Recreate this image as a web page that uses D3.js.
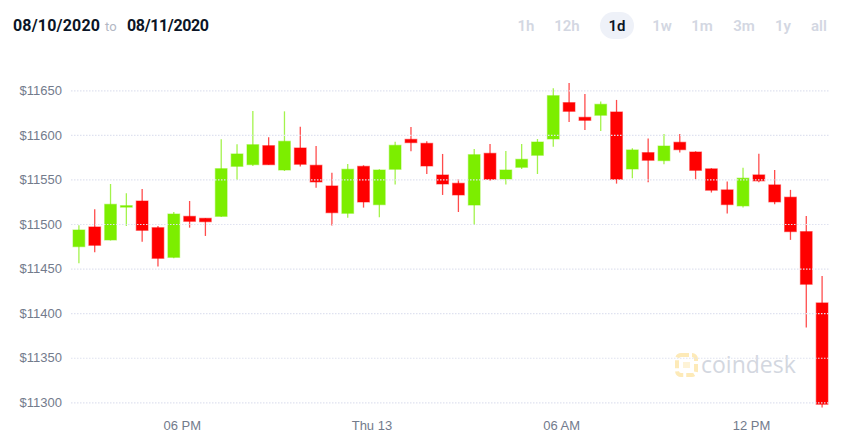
<!DOCTYPE html>
<html>
<head>
<meta charset="utf-8">
<script src="https://cdn.jsdelivr.net/npm/d3@7"></script>
<style>
  html, body { margin: 0; padding: 0; background: #fff; }
  svg { display: block; }
</style>
</head>
<body>
<svg id="chart" width="849" height="443"></svg>
<script>
// 30-minute candles, first one opens 14:30 UTC on Aug 12 2020
const startTime = Date.UTC(2020, 7, 12, 14, 30);
const candleMinutes = 30;

const opens  = [11474.6, 11496.7, 11482.1, 11519.8, 11525.8, 11495.9, 11462.6, 11508.6, 11506.4, 11508.6,
                11564.7, 11566.6, 11587.9, 11560.6, 11585.3, 11565.9, 11542.7, 11512.0, 11564.7, 11521.7,
                11561.4, 11595.0, 11590.5, 11555.0, 11545.7, 11521.3, 11579.3, 11550.5, 11563.6, 11577.1,
                11595.4, 11636.2, 11619.7, 11622.0, 11625.7, 11561.7, 11580.1, 11571.1, 11591.7, 11580.8,
                11561.9, 11538.3, 11520.3, 11555.1, 11543.9, 11530.1, 11491.5, 11411.5];
const highs  = [11498.5, 11516.5, 11544.9, 11534.4, 11539.3, 11497.8, 11513.5, 11525.8, 11506.6, 11595.0,
                11589.4, 11626.8, 11597.3, 11626.4, 11609.2, 11587.5, 11557.6, 11567.3, 11565.9, 11561.4,
                11592.4, 11608.9, 11592.8, 11578.6, 11550.5, 11584.2, 11589.8, 11581.9, 11589.8, 11595.4,
                11652.2, 11658.2, 11645.9, 11637.3, 11639.2, 11584.9, 11595.8, 11601.0, 11601.0, 11581.6,
                11562.6, 11547.6, 11563.0, 11578.7, 11560.7, 11538.3, 11509.1, 11441.8];
const lows   = [11455.9, 11468.2, 11481.5, 11497.8, 11480.2, 11452.2, 11461.5, 11495.9, 11486.6, 11508.0,
                11549.4, 11565.1, 11566.6, 11559.5, 11564.4, 11540.8, 11498.2, 11507.1, 11518.4, 11507.5,
                11544.2, 11581.6, 11556.1, 11532.6, 11513.5, 11498.9, 11548.6, 11544.2, 11561.7, 11556.1,
                11586.8, 11614.5, 11605.5, 11604.4, 11545.3, 11551.3, 11546.8, 11567.0, 11580.1, 11550.1,
                11535.3, 11511.7, 11518.5, 11546.9, 11522.2, 11482.2, 11383.8, 11294.1];
const closes = [11493.3, 11476.1, 11522.1, 11520.6, 11492.9, 11461.5, 11511.2, 11503.0, 11502.6, 11562.1,
                11578.6, 11589.0, 11566.6, 11592.8, 11567.0, 11547.2, 11512.7, 11561.4, 11524.7, 11560.6,
                11588.3, 11591.3, 11565.1, 11544.9, 11532.6, 11577.8, 11550.1, 11560.6, 11572.6, 11592.0,
                11644.0, 11626.4, 11616.3, 11634.3, 11550.1, 11583.1, 11571.5, 11587.5, 11583.4, 11560.2,
                11537.9, 11521.8, 11551.4, 11548.4, 11524.8, 11491.5, 11432.4, 11297.8];

const priceTicks = [11300, 11350, 11400, 11450, 11500, 11550, 11600, 11650];
const timeTicks = [Date.UTC(2020, 7, 12, 18), Date.UTC(2020, 7, 13, 0), Date.UTC(2020, 7, 13, 6), Date.UTC(2020, 7, 13, 12)];
const timeTickLabels = ["06 PM", "Thu 13", "06 AM", "12 PM"];
const rangeButtons = ["1h", "12h", "1d", "1w", "1m", "3m", "1y", "all"];
const activeRange = "1d";

const candles = opens.map((o, i) => ({
  t: new Date(startTime + (i + 0.5) * candleMinutes * 60000),
  open: o, high: highs[i], low: lows[i], close: closes[i]
}));

const svg = d3.select("#chart");
const green = "#7cee00", red = "#ff0000";

const x = d3.scaleUtc()
  .domain([new Date(startTime), new Date(startTime + opens.length * candleMinutes * 60000)])
  .range([71, 830]);
const y = d3.scaleLinear().domain([11300, 11650]).range([402.3, 90.3]);
const step = (x.range()[1] - x.range()[0]) / opens.length;
const bodyW = step * 0.74;

// header
const header = svg.append("g").attr("font-family", "Roboto, 'Liberation Sans', sans-serif");
header.append("text").attr("x", 13).attr("y", 31)
  .attr("font-size", 16).attr("font-weight", 700).attr("fill", "#0b1526")
  .attr("textLength", 87).text("08/10/2020");
header.append("text").attr("x", 105).attr("y", 31)
  .attr("font-size", 13).attr("fill", "#b3b8c4").text("to");
header.append("text").attr("x", 127).attr("y", 31)
  .attr("font-size", 16).attr("font-weight", 700).attr("fill", "#0b1526")
  .attr("textLength", 82).text("08/11/2020");

const btnX = [526, 567, 617, 662, 702, 744, 783, 819];
header.append("rect").attr("x", 600).attr("y", 12).attr("width", 34).attr("height", 27)
  .attr("rx", 13.5).attr("fill", "#eef1f8");
header.selectAll(".btn").data(rangeButtons).join("text")
  .attr("class", "btn")
  .attr("x", (d, i) => btnX[i]).attr("y", 31)
  .attr("text-anchor", "middle")
  .attr("font-size", 15).attr("font-weight", 600)
  .attr("fill", d => d === activeRange ? "#0b1526" : "#d3d7e2")
  .text(d => d);

// watermark
const wm = svg.append("g").attr("transform", "translate(675,353)");
wm.append("rect").attr("x", 2).attr("y", 2).attr("width", 19).attr("height", 20).attr("rx", 4)
  .attr("fill", "none").attr("stroke", "#fdeab8").attr("stroke-width", 4).attr("stroke-dasharray", "8 3");
wm.append("rect").attr("x", 8).attr("y", 9).attr("width", 7).attr("height", 6).attr("fill", "#fef3d6");
svg.append("text").attr("x", 701).attr("y", 373)
  .attr("font-family", "'Open Sans', sans-serif").attr("font-size", 23)
  .attr("fill", "#d3d7df").text("coindesk");

// candles
const cg = svg.append("g");
const c = cg.selectAll("g").data(candles).join("g");
c.append("line")
  .attr("x1", d => x(d.t)).attr("x2", d => x(d.t))
  .attr("y1", d => y(d.high)).attr("y2", d => y(d.low))
  .attr("stroke", d => d.close >= d.open ? green : red)
  .attr("stroke-opacity", 0.7).attr("stroke-width", 1.3);
c.append("rect")
  .attr("x", d => x(d.t) - bodyW / 2)
  .attr("y", d => y(Math.max(d.open, d.close)))
  .attr("width", bodyW)
  .attr("height", d => Math.max(1.5, Math.abs(y(d.open) - y(d.close))))
  .attr("fill", d => d.close >= d.open ? green : red)
  .attr("stroke", d => d.close >= d.open ? green : red)
  .attr("stroke-opacity", 0.45).attr("stroke-width", 1.2);

// grid on top of candles
const grid = svg.append("g").attr("transform", "translate(71,0)")
  .call(d3.axisLeft(y).tickValues(priceTicks).tickSize(-(830 - 71)).tickFormat(""));
grid.select(".domain").remove();
grid.selectAll("line").attr("stroke", "#dfe2f0").attr("stroke-dasharray", "1.5 1.5").attr("stroke-width", 1.2);

// y axis labels
const yAxis = svg.append("g").attr("transform", "translate(62,0)")
  .call(d3.axisLeft(y).tickValues(priceTicks).tickSize(0).tickPadding(0).tickFormat(d => "$" + d));
yAxis.select(".domain").remove();
yAxis.selectAll("text").attr("font-family", "'Liberation Sans', Arial, sans-serif")
  .attr("font-size", 13).attr("fill", "#737b8c");

// x axis labels
const xAxis = svg.append("g").attr("transform", "translate(0,417)")
  .call(d3.axisBottom(x).tickValues(timeTicks.map(t => new Date(t))).tickSize(0).tickPadding(4)
    .tickFormat((d, i) => timeTickLabels[i]));
xAxis.select(".domain").remove();
xAxis.selectAll("text").attr("font-family", "'Liberation Sans', Arial, sans-serif")
  .attr("font-size", 13).attr("fill", "#737b8c");
</script>
</body>
</html>
